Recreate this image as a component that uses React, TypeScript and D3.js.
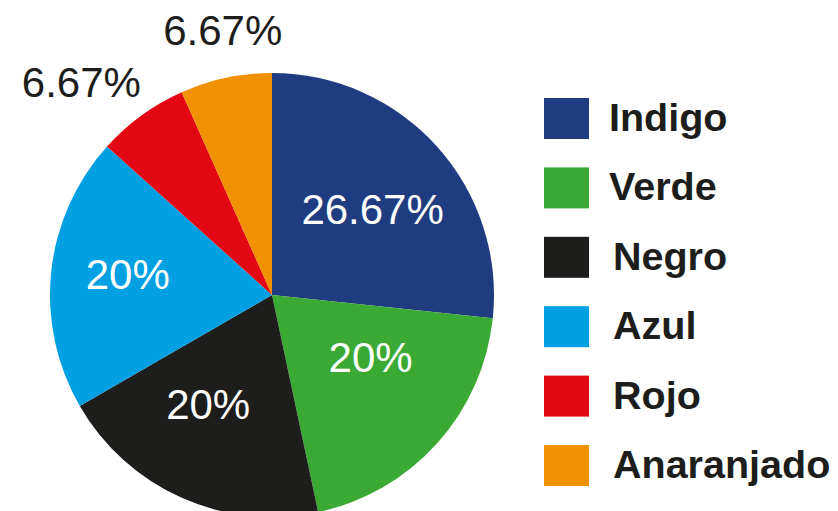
import React from 'react';
import * as d3 from 'd3';

// chart data
const categories = ['Indigo', 'Verde', 'Negro', 'Azul', 'Rojo', 'Anaranjado'];
const shares = [26.67, 20, 20, 20, 6.67, 6.67];
const labels = ['26.67%', '20%', '20%', '20%', '6.67%', '6.67%'];
const colors = ['#203c80', '#3baa35', '#1d1d1b', '#00a0e3', '#e30613', '#f29100'];
// which labels sit outside the pie
const outside = [false, false, false, false, true, true];

const width = 838;
const height = 511;
const cx = 272;
const cy = 295;
const radius = 222;

// small hand nudges so labels land where the original put them
const nudge: [number, number][] = [[4, 1], [2, -25], [-11, -9], [-15, -7], [-26, 14], [9, 9]];

const App = () => {
  const pie = d3.pie<number>().sort(null).value(d => d);
  const arcs = pie(shares);

  const arc = d3.arc<d3.PieArcDatum<number>>().innerRadius(0).outerRadius(radius);
  const innerLabelArc = d3.arc<d3.PieArcDatum<number>>().innerRadius(130).outerRadius(130);
  const outerLabelArc = d3.arc<d3.PieArcDatum<number>>().innerRadius(280).outerRadius(280);

  // legend rows
  const legendY = d3.scalePoint<string>().domain(categories).range([98, 445]);

  return (
    <svg
      width={width}
      height={height}
      style={{ position: 'absolute', left: 0, top: 0, background: '#fff' }}
      fontFamily="'Liberation Sans', Arial, sans-serif"
    >
      <g transform={`translate(${cx},${cy})`}>
        {arcs.map((a, i) => (
          <path key={categories[i]} d={arc(a) || ''} fill={colors[i]} />
        ))}
        {arcs.map((a, i) => {
          const [x, y] = outside[i] ? outerLabelArc.centroid(a) : innerLabelArc.centroid(a);
          return (
            <text
              key={'l' + i}
              x={x + nudge[i][0]}
              y={y + nudge[i][1]}
              dy="0.35em"
              textAnchor="middle"
              fontSize={42}
              fill={outside[i] ? '#1d1d1b' : '#fff'}
            >
              {labels[i]}
            </text>
          );
        })}
      </g>

      <g>
        {categories.map((c, i) => {
          const y = legendY(c) as number;
          return (
            <g key={c}>
              <rect x={544} y={y} width={45} height={41} fill={colors[i]} />
              <text x={i < 2 ? 609 : 613} y={y + 33} fontSize={39.5} fontWeight="bold" fill="#1d1d1b">
                {c}
              </text>
            </g>
          );
        })}
      </g>
    </svg>
  );
};

export default App;
